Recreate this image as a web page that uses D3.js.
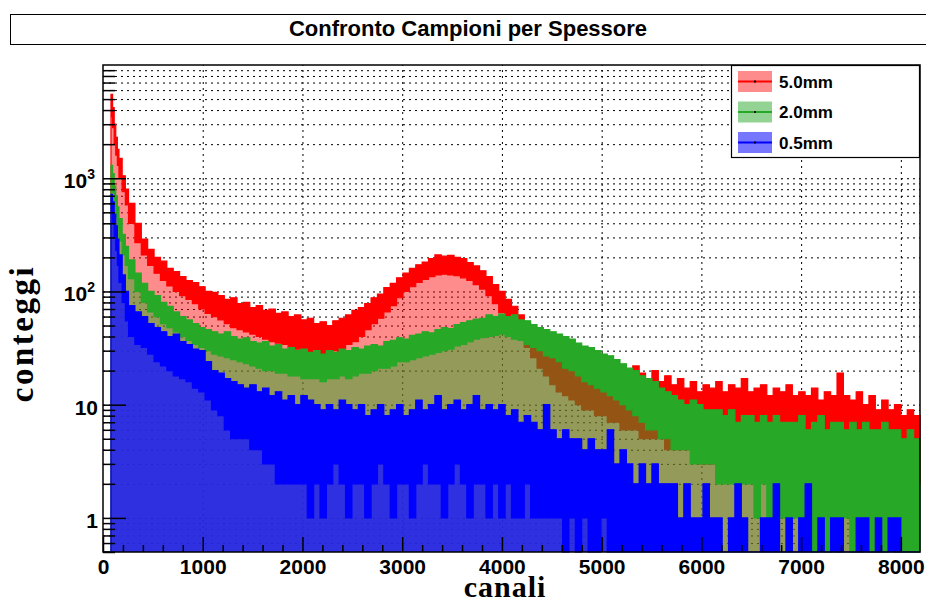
<!DOCTYPE html>
<html>
<head>
<meta charset="utf-8">
<script src="https://cdn.jsdelivr.net/npm/d3@7"></script>
<style>
body { margin: 0; background: #fff; }
svg { display: block; }
</style>
</head>
<body>
<script>
// bin edges in channels: finer bins on the sharp low-energy peak, then 64 wide
const binEdges = [0, 80, 96, 112, 128, 144, 160, 192, 224, 256, 320].concat(d3.range(384, 8193, 64));

// hi / lo = upper and lower envelope of the counts in each bin
const redHi = [0,5500,4200,3000,2300,1800,1500,1050,800,600,400,
  290,235,200,185,160,150,135,125,120,110,100,98,92,85,88,78,80,72,75,68,70,64,66,60,62,56,
  58,52,54,50,55,58,62,68,72,78,88,95,108,118,132,145,160,172,182,195,210,205,208,200,195,180,168,152,135,115,100,85,
  74,62,52,42,35,29,26,24,22,21,20,19,18,18,17,18,17,19,20,22,19,17,20,16,18,15,17,14,16,13,15,14,
  16,13,15,14,17,13,14,15,12,14,13,15,12,13,12,14,11,13,12,19,12,11,13,10,12,9,11,9,10,8,9,8];
const redLo = [0,3500,2800,2000,1600,1300,1000,760,580,400,270,
  210,170,145,125,112,100,92,85,78,70,64,60,56,52,48,46,44,42,40,38,36,35,34,32,31,30,
  29,28,28,29,30,31,34,36,40,46,52,58,66,75,88,100,110,120,128,135,140,142,140,138,132,125,115,105,92,78,65,55,
  48,40,32,26,21,18,15,13,12,11,10,9,9,8,8,7,7,6,6,6,5,5,5,5,4,4,4,4,4,3,3,3,
  4,3,3,4,3,3,3,3,3,3,2,3,3,2,3,2,3,2,3,2,2,3,2,2,2,2,2,2,2,2,2,2];

const greenHi = [0,1300,1100,850,700,560,440,320,250,190,145,
  118,100,92,80,74,66,60,56,52,48,46,44,42,44,40,38,39,36,35,36,33,34,31,32,30,31,
  29,30,28,30,29,31,30,32,31,33,34,33,36,37,39,38,41,42,44,43,46,48,47,51,53,55,57,58,62,60,63,60,
  62,56,55,51,48,46,44,42,40,38,35,33,32,30,28,27,25,23,21,20,18,17,16,14,13,12,11,10,11,10,9,9,
  9,8,9,7,8,8,7,8,7,8,7,7,7,8,6,7,8,6,7,7,6,7,6,7,6,6,7,6,6,5,6,5];
const greenLo = [0,900,750,560,450,360,280,210,170,130,100,
  80,66,60,52,48,44,40,37,34,32,30,28,27,26,25,24,23,22,21,20,20,19,19,18,18,17,
  17,17,16,17,17,18,17,18,19,19,20,21,21,22,24,24,25,26,27,28,29,30,31,33,34,36,38,39,40,41,42,40,
  38,37,34,32,30,27,26,24,21,20,18,16,15,14,13,12,11,10,9,8,7,6,6,5,5,4,4,4,3,3,3,3,
  2,2,2,2,2,2,1,2,1,2,1,1,1,1,1,0,1,0,1,0,1,0,0,1,0,0,0,1,0,0,0,0];

const blueHi = [0,720,620,480,380,290,210,140,100,75,66,
  60,52,48,44,40,42,36,34,31,30,24,20,19,17,16,15,14,15,13,14,12,13,11,12,10,12,
  11,10,9,10,9,11,10,9,10,8,9,10,8,9,10,8,9,11,9,10,12,9,10,11,9,10,12,9,10,9,10,8,
  9,7,8,7,6,10,6,5,6,5,5,4,5,4,4,6,3,4,3,2,3,2,3,2,2,2,1,2,1,1,2,1,
  1,0,1,2,1,0,0,1,1,2,0,1,0,1,2,0,1,0,1,1,0,0,1,1,0,1,0,1,1,0,0,0];
const blueLo = [0,500,400,300,230,170,120,80,55,40,34,
  32,28,24,22,20,18,17,16,14,13,11,9,8,6,5,5,5,4,4,3,3,2,2,2,2,2,
  1,2,1,2,3,2,1,2,2,1,2,3,2,1,2,2,1,2,3,2,2,1,2,3,2,1,2,2,1,2,1,2,
  1,1,2,1,1,1,1,1,0,1,0,1,0,0,1,0,0,0,0,0,0,0,0,0,0,0,0,0,0,0,0,0,
  0,0,0,0,0,0,0,0,0,0,0,0,0,0,0,0,0,0,0,0,0,0,0,0,0,0,0,0,0,0,0,0];

const series = [
  {name: "5.0mm", color: "#ff0000", tint: "#ff0000", tintOpacity: 0.45, hi: redHi, lo: redLo},
  {name: "2.0mm", color: "#27a827", tint: "#27a827", tintOpacity: 0.5, hi: greenHi, lo: greenLo},
  {name: "0.5mm", color: "#0000ff", tint: "#1a1aff", tintOpacity: 0.82, hi: blueHi, lo: blueLo}
];

const xTicks = [0, 1000, 2000, 3000, 4000, 5000, 6000, 7000, 8000];
const yMajor = [1, 10, 100, 1000];
const yLabels = [["1", ""], ["10", ""], ["10", "2"], ["10", "3"]];

const width = 926, height = 606;
const margin = {top: 65, right: 6, bottom: 54, left: 103};
const plotW = width - margin.left - margin.right;
const plotH = height - margin.top - margin.bottom;

const x = d3.scaleLinear().domain([0, 8192]).range([0, plotW]);
const y = d3.scaleLog().domain([0.5, 10000]).range([plotH, 0]).clamp(true);
const yv = v => v <= 0.5 ? plotH : y(v);

const yMinor = [];
[0.1, 1, 10, 100, 1000].forEach(d => {
    for (let k = 1; k <= 9; k++) {
        const v = d * k;
        if (v >= 0.5 && v <= 10000 && yMajor.indexOf(v) < 0) yMinor.push(v);
    }
});
const yAll = yMajor.concat(yMinor).filter(v => v > 0.5);
const xMinor = d3.range(0, 8192, 200).filter(v => v % 1000 !== 0);

const root = d3.select('body').append('svg')
    .attr('width', width)
    .attr('height', height);

// title box
root.append('rect')
    .attr('x', 10.5).attr('y', 14.5)
    .attr('width', 925).attr('height', 30)
    .attr('fill', '#fff').attr('stroke', '#000').attr('stroke-width', 1);
root.append('text')
    .attr('x', 468).attr('y', 36)
    .attr('text-anchor', 'middle')
    .style('font-family', 'Liberation Sans, Arial, sans-serif')
    .style('font-weight', 'bold')
    .style('font-size', '22px')
    .text('Confronto Campioni per Spessore');

const svg = root.append('g')
    .attr('transform', 'translate(' + margin.left + ',' + margin.top + ')');

// grid
svg.append('g')
    .attr('class', 'grid')
    .call(d3.axisLeft(y).tickValues(yAll).tickSize(-plotW).tickFormat(''))
    .call(g => g.select('.domain').remove())
    .selectAll('line')
    .attr('stroke', '#000').attr('stroke-dasharray', '2,4');
svg.append('g')
    .attr('class', 'grid')
    .attr('transform', 'translate(0,' + plotH + ')')
    .call(d3.axisBottom(x).tickValues(xTicks.slice(1)).tickSize(-plotH).tickFormat(''))
    .call(g => g.select('.domain').remove())
    .selectAll('line')
    .attr('stroke', '#000').attr('stroke-dasharray', '2,4');

// histograms: tinted fill under the upper envelope, solid band between lo and hi
series.forEach(s => {
    const pts = [];
    s.hi.forEach((h, i) => {
        pts.push([binEdges[i], h, s.lo[i]]);
        pts.push([binEdges[i + 1], h, s.lo[i]]);
    });
    const fillArea = d3.area()
        .x(p => x(p[0]))
        .y0(plotH)
        .y1(p => yv(p[1]));
    const band = d3.area()
        .x(p => x(p[0]))
        .y0(p => yv(p[2]))
        .y1(p => yv(p[1]));
    svg.append('path')
        .datum(pts)
        .attr('d', fillArea)
        .attr('fill', s.tint)
        .attr('fill-opacity', s.tintOpacity);
    svg.append('path')
        .datum(pts)
        .attr('d', band)
        .attr('fill', s.color)
        .attr('stroke', s.color)
        .attr('stroke-width', 1.2);
});

// ticks
svg.append('g')
    .call(d3.axisRight(y).tickValues(yMajor).tickSize(23).tickFormat(''))
    .call(g => g.select('.domain').remove());
svg.append('g')
    .call(d3.axisRight(y).tickValues(yMinor).tickSize(12).tickFormat(''))
    .call(g => g.select('.domain').remove());
svg.append('g')
    .attr('transform', 'translate(0,' + plotH + ')')
    .call(d3.axisTop(x).tickValues(xTicks).tickSize(15).tickFormat(''))
    .call(g => g.select('.domain').remove());
svg.append('g')
    .attr('transform', 'translate(0,' + plotH + ')')
    .call(d3.axisTop(x).tickValues(xMinor).tickSize(7).tickFormat(''))
    .call(g => g.select('.domain').remove());
svg.selectAll('.tick line').filter(function () { return !this.closest('.grid'); })
    .attr('stroke', '#000').attr('stroke-width', 1.5);

// frame
svg.append('rect')
    .attr('x', 0).attr('y', 0)
    .attr('width', plotW).attr('height', plotH)
    .attr('fill', 'none').attr('stroke', '#000').attr('stroke-width', 1.5);

// tick labels
const labelFont = 'Liberation Sans, Arial, sans-serif';
svg.append('g')
    .attr('transform', 'translate(0,' + plotH + ')')
    .call(d3.axisBottom(x).tickValues(xTicks).tickSize(0).tickPadding(7).tickFormat(d3.format('d')))
    .call(g => g.select('.domain').remove())
    .selectAll('text')
    .style('font-family', labelFont)
    .style('font-weight', 'bold')
    .style('font-size', '21px')
    .attr('fill', '#000');

const yl = svg.selectAll('text.ylab')
    .data(yMajor)
    .enter().append('text')
    .attr('class', 'ylab')
    .attr('x', d => yLabels[yMajor.indexOf(d)][1] ? -8 : -5)
    .attr('y', d => y(d) + 10)
    .attr('text-anchor', 'end')
    .style('font-family', labelFont)
    .style('font-weight', 'bold')
    .style('font-size', '21px');
yl.append('tspan').text((d, i) => yLabels[i][0]);
yl.append('tspan')
    .attr('dy', -9)
    .style('font-size', '14px')
    .text((d, i) => yLabels[i][1]);

// axis titles
svg.append('text')
    .attr('x', 402).attr('y', plotH + 45)
    .attr('text-anchor', 'middle')
    .style('font-family', 'Liberation Serif, Times New Roman, serif')
    .style('font-weight', 'bold')
    .style('font-size', '30px')
    .style('letter-spacing', '1px')
    .text('canali');
svg.append('text')
    .attr('transform', 'translate(-70,' + (plotH / 2 + 25) + ') rotate(-90)')
    .attr('text-anchor', 'middle')
    .style('font-family', 'Liberation Serif, Times New Roman, serif')
    .style('font-weight', 'bold')
    .style('font-size', '33px')
    .style('letter-spacing', '2.5px')
    .text('conteggi');

// legend
const leg = svg.append('g')
    .attr('transform', 'translate(' + (plotW - 189) + ',0)');
leg.append('rect')
    .attr('x', 0.5).attr('y', 0.5)
    .attr('width', 188).attr('height', 92)
    .attr('fill', '#fff').attr('stroke', '#000').attr('stroke-width', 1.2);
const entries = leg.selectAll('g.entry')
    .data(series)
    .enter().append('g')
    .attr('class', 'entry')
    .attr('transform', (d, i) => 'translate(7,' + (6 + i * 30.5) + ')');
entries.append('rect')
    .attr('width', 34).attr('height', 21)
    .attr('fill', d => d.tint)
    .attr('fill-opacity', d => Math.min(d.tintOpacity, 0.6));
entries.append('line')
    .attr('x1', 0).attr('x2', 34)
    .attr('y1', 10.5).attr('y2', 10.5)
    .attr('stroke', d => d.color).attr('stroke-width', 2);
entries.append('rect')
    .attr('x', 16).attr('y', 9.5).attr('width', 2).attr('height', 2)
    .attr('fill', '#000');
entries.append('text')
    .attr('x', 41).attr('y', 16.5)
    .style('font-family', labelFont)
    .style('font-weight', 'bold')
    .style('font-size', '17px')
    .text(d => d.name);
</script>
</body>
</html>
